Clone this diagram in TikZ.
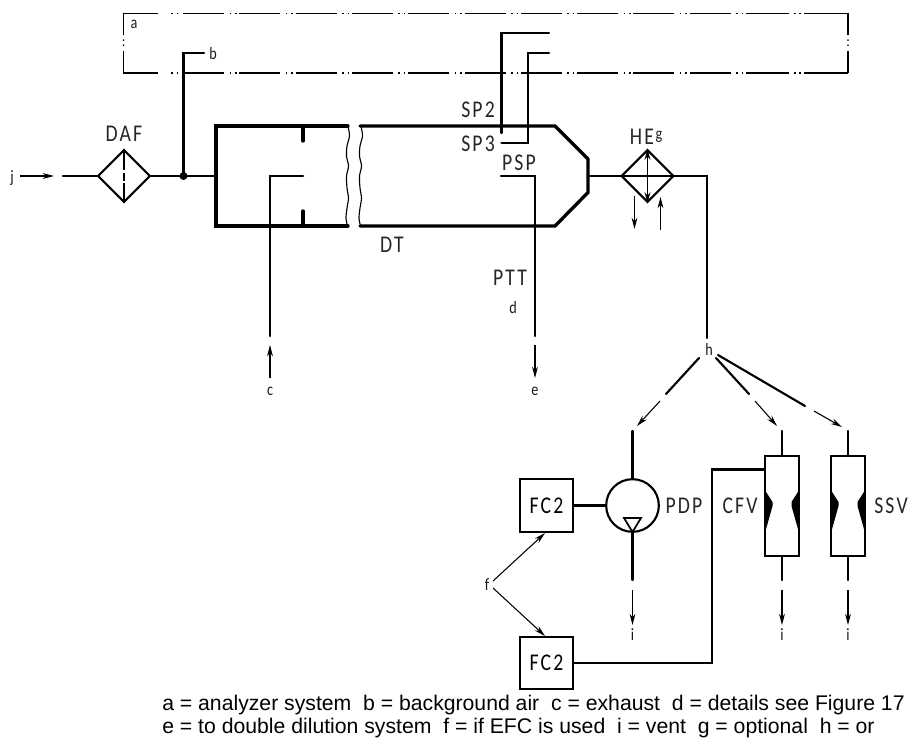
\documentclass[tikz,border=0pt]{standalone}
\usepackage{fontspec}
\setmainfont{Carlito}
\newfontfamily\legendfont{Liberation Sans}
\newfontfamily\labelfont[LetterSpace=9,FakeStretch=0.82]{Carlito}
\usetikzlibrary{arrows.meta,shapes.geometric}
\tikzset{
  pipe/.style={line width=1.6pt,line cap=round,line join=miter},
  wall/.style={line width=2.5pt,line cap=round,line join=miter},
  frameline/.style={line width=0.85pt},
  flow/.style={line width=0.8pt,-{Stealth[length=8.5pt,width=4.4pt]}},
  tag/.style={font=\labelfont\fontsize{18}{18}\selectfont,inner sep=0pt,text=black!85},
  small/.style={font=\labelfont\fontsize{13}{13}\selectfont,inner sep=0pt,text=black!90},
  legend/.style={font=\legendfont\fontsize{15.9}{18}\selectfont,inner sep=0pt,anchor=base west},
  box/.style={draw,line width=1.6pt,minimum size=39.5pt,inner sep=0pt,font=\labelfont\fontsize{18}{18}\selectfont},
  filterd/.style={draw,line width=1.6pt,diamond,minimum width=39.5pt,minimum height=39.5pt,inner sep=0pt,aspect=1},
  venturi/.style={draw,line width=1.6pt,minimum width=25.3pt,minimum height=75pt,inner sep=0pt},
  pumpc/.style={draw,line width=1.6pt,circle,minimum size=39.5pt,inner sep=0pt},
}
\begin{document}
\begin{tikzpicture}[x=0.75pt,y=-0.75pt]
\useasboundingbox (0,0) rectangle (912,738);
% analyser frame
\draw[frameline] (158,13.5) -- (123.5,13.5) -- (123.5,35);
\draw[frameline] (123.5,51) -- (123.5,73) -- (158,73);
\draw[frameline] (848,13.5) -- (848,35) (848,51) -- (848,73);
\fill (122.9,39.5) rectangle (124.1,41) (122.9,44.5) rectangle (124.1,46);
\fill (847.4,39.5) rectangle (848.6,41) (847.4,44.5) rectangle (848.6,46);
\foreach \yy in {13.5,73}{
  \draw[frameline] (171,\yy) -- (172.5,\yy) (176.5,\yy) -- (178,\yy);
  \foreach \k in {0,...,9}{
    \pgfmathsetmacro{\xa}{183+56.3*\k}
    \pgfmathsetmacro{\xb}{\xa+41}
    \pgfmathsetmacro{\da}{\xa+46.5}
    \pgfmathsetmacro{\db}{\xa+48}
    \pgfmathsetmacro{\dc}{\xa+52}
    \pgfmathsetmacro{\dd}{\xa+53.5}
    \draw[frameline] (\xa,\yy) -- (\xb,\yy) (\da,\yy) -- (\db,\yy) (\dc,\yy) -- (\dd,\yy);
  }
  \draw[frameline] (746,\yy) -- (789,\yy) (794,\yy) -- (795.5,\yy) (799,\yy) -- (800.5,\yy) (804,\yy) -- (848,\yy);
}
\node[small,anchor=center] (la) at (134,24.5) {a};

% named elements
\node[filterd] (daf) at (124,176) {};
\node[filterd] (he) at (647.5,176) {};
\node[box] (fctop) at (546.5,505.5) {FC2};
\node[box] (fcbot) at (546.5,663) {FC2};
\node[pumpc] (pdp) at (632.5,505.5) {};
\node[venturi] (cfv) at (782,506) {};
\node[venturi] (ssv) at (848,506) {};

\coordinate (jin) at (63,176);
\coordinate (junc) at (183.5,176);
\coordinate (bturn) at (183.5,53);
\coordinate (bend) at (204,53);
\coordinate (dtin) at (216,176);
\coordinate (dtout) at (588,176);
\coordinate (heturn) at (707,176);
\coordinate (heend) at (707,338);

% dilution tunnel
\draw[wall] (348,126) -- (216,126) -- (216,226) -- (348,226);
\draw[wall] (360,126) -- (555,126) -- (588,159) -- (588,192.5) -- (555,226) -- (360,226);
\draw[wall] (303,126) -- (303,141) (303,211) -- (303,226);
\draw[line width=0.85pt] plot[smooth] coordinates {(348,126) (349.5,136) (347,146) (346.5,156) (348.5,166) (346.5,176) (347,188) (348.5,198) (347,208) (346,218) (347.5,226)};
\draw[line width=0.85pt] plot[smooth] coordinates {(361,126) (362.5,136) (360,146) (359.5,156) (361.5,166) (359.5,176) (360,188) (361.5,198) (360,208) (359,218) (360.5,226)};

% inlet
\coordinate (jstart) at (20,176); \coordinate (jtip) at (54,176);
\draw[flow] (jstart) -- (jtip);
\draw[pipe] (jin) -- (daf.west);
\draw[pipe] (daf.east) -- (junc) -- (dtin);
\draw[pipe] (junc) -- (bturn) -- (bend);
\fill (junc) circle (4);
\draw[line width=1.4pt,dash pattern=on 16pt off 2pt on 6pt off 2pt on 16pt off 0pt] (daf.north) -- (daf.south);

% c line
\coordinate (cin) at (303,176); \coordinate (cturn) at (270,176); \coordinate (cbot) at (270,336);
\draw[pipe] (cin) -- (cturn) -- (cbot);
\coordinate (c1) at (270,378); \coordinate (c2) at (270,345);
\draw[flow] (c1) -- (c2);

% probes
\coordinate (pspa) at (501,176); \coordinate (pspb) at (535,176); \coordinate (pspc) at (535,336);
\draw[pipe] (pspa) -- (pspb) -- (pspc);
\coordinate (e1) at (535,345); \coordinate (e2) at (535,378);
\draw[flow] (e1) -- (e2);
\coordinate (spa) at (501.5,133); \coordinate (spb) at (501.5,33); \coordinate (spc) at (549,33);
\draw[pipe] (spa) -- (spb) -- (spc);
\coordinate (sqa) at (501.5,143); \coordinate (sqb) at (528,143); \coordinate (sqc) at (528,53); \coordinate (sqd) at (549,53);
\draw[pipe] (sqa) -- (sqb) -- (sqc) -- (sqd);

% heat exchanger
\draw[pipe] (dtout) -- (he.west) -- (he.east) -- (heturn) -- (heend);
\draw[line width=0.9pt,{Stealth[length=8.5pt,width=4.4pt]}-{Stealth[length=8.5pt,width=4.4pt]}] (he.north) -- (he.south);
\coordinate (ha) at (634.5,196); \coordinate (hb) at (634.5,229);
\coordinate (hc) at (660.5,230); \coordinate (hd) at (660.5,197);
\draw[flow] (ha) -- (hb);
\draw[flow] (hc) -- (hd);

% or-branches
\node[small,anchor=center] (lh) at (709,349) {h};
\coordinate (b1a) at (699,358); \coordinate (b1b) at (666,394); \coordinate (b1c) at (660,401); \coordinate (b1d) at (637,426);
\coordinate (b2a) at (716,358); \coordinate (b2b) at (749,394); \coordinate (b2c) at (755,401); \coordinate (b2d) at (777,426);
\coordinate (b3a) at (718,355); \coordinate (b3b) at (805,406); \coordinate (b3c) at (814,411); \coordinate (b3d) at (842,427);
\draw[pipe] (b1a) -- (b1b); \draw[flow] (b1c) -- (b1d);
\draw[pipe] (b2a) -- (b2b); \draw[flow] (b2c) -- (b2d);
\draw[pipe] (b3a) -- (b3b); \draw[flow] (b3c) -- (b3d);

% PDP
\coordinate (pt) at (632.5,431); \coordinate (pb) at (632.5,580);
\draw[pipe] (pt) -- (pdp.north);
\draw[pipe] (pdp.south) -- (pb);
\draw[line width=1.3pt] (624,518) -- (641,518) -- (632.5,532) -- cycle;
\draw[pipe] (fctop.east) -- (pdp.west);
\coordinate (pv1) at (632.5,590); \coordinate (pv2) at (632.5,625);
\draw[flow] (pv1) -- (pv2);

% CFV, SSV
\coordinate (ct) at (782,431); \coordinate (cb) at (782,580);
\draw[pipe] (ct) -- (cfv.north); \draw[pipe] (cfv.south) -- (cb);
\coordinate (st) at (848,431); \coordinate (sb) at (848,580);
\draw[pipe] (st) -- (ssv.north); \draw[pipe] (ssv.south) -- (sb);
\foreach \cx in {782,848}{
  \fill (\cx-16.5,491) -- (\cx-9.5,502) -- (\cx-9.5,506) -- (\cx-16.5,531) -- cycle;
  \fill (\cx+16.5,491) -- (\cx+9.5,502) -- (\cx+9.5,506) -- (\cx+16.5,531) -- cycle;
}
\coordinate (cv1) at (782,590); \coordinate (cv2) at (782,625);
\coordinate (sv1) at (848,590); \coordinate (sv2) at (848,625);
\draw[flow] (cv1) -- (cv2);
\draw[flow] (sv1) -- (sv2);
\coordinate (ra) at (765,469.5); \coordinate (rb) at (712,469.5); \coordinate (rc) at (712,663);
\draw[pipe,line cap=butt] (ra) -- (rb) -- (rc) -- (fcbot.east);

% f arrows
\node[small,anchor=center] (lf) at (487,585) {f};
\coordinate (f1) at (493,581); \coordinate (f2) at (545,533);
\coordinate (f3) at (493,588); \coordinate (f4) at (545,636);
\draw[flow] (f1) -- (f2);
\draw[flow] (f3) -- (f4);

% labels
\node[tag] (tdaf) at (124,134) {DAF};
\node[tag] (tdt) at (392,245) {DT};
\node[tag] (tsp2) at (478,110) {SP2};
\node[tag] (tsp3) at (478,144) {SP3};
\node[tag] (tpsp) at (519,163) {PSP};
\node[tag] (tptt) at (510,278) {PTT};
\node[tag] (the) at (642,137) {HE};
\node[small,anchor=center] (lg) at (659,137) {g};
\node[small,anchor=center] (lb) at (213,53.5) {b};
\node[small,anchor=center] (lj) at (12,178) {j};
\node[small,anchor=center] (lc) at (270,391) {c};
\node[small,anchor=center] (ld) at (513,308) {d};
\node[small,anchor=center] (le) at (535,391) {e};
\node[small,anchor=center] (li1) at (632.5,635) {i};
\node[small,anchor=center] (li2) at (782,635) {i};
\node[small,anchor=center] (li3) at (848,635) {i};
\node[tag] (tpdp) at (684,506) {PDP};
\node[tag] (tcfv) at (740,506) {CFV};
\node[tag] (tssv) at (891,506) {SSV};

% legend
\node[legend] (leg1) at (162,710) {a = analyzer system\ \ b = background air\ \ c = exhaust\ \ d = details see Figure 17};
\node[legend] (leg2) at (162,733) {e = to double dilution system\ \ f = if EFC is used\ \ i = vent\ \ g = optional\ \ h = or};
\end{tikzpicture}
\end{document}
